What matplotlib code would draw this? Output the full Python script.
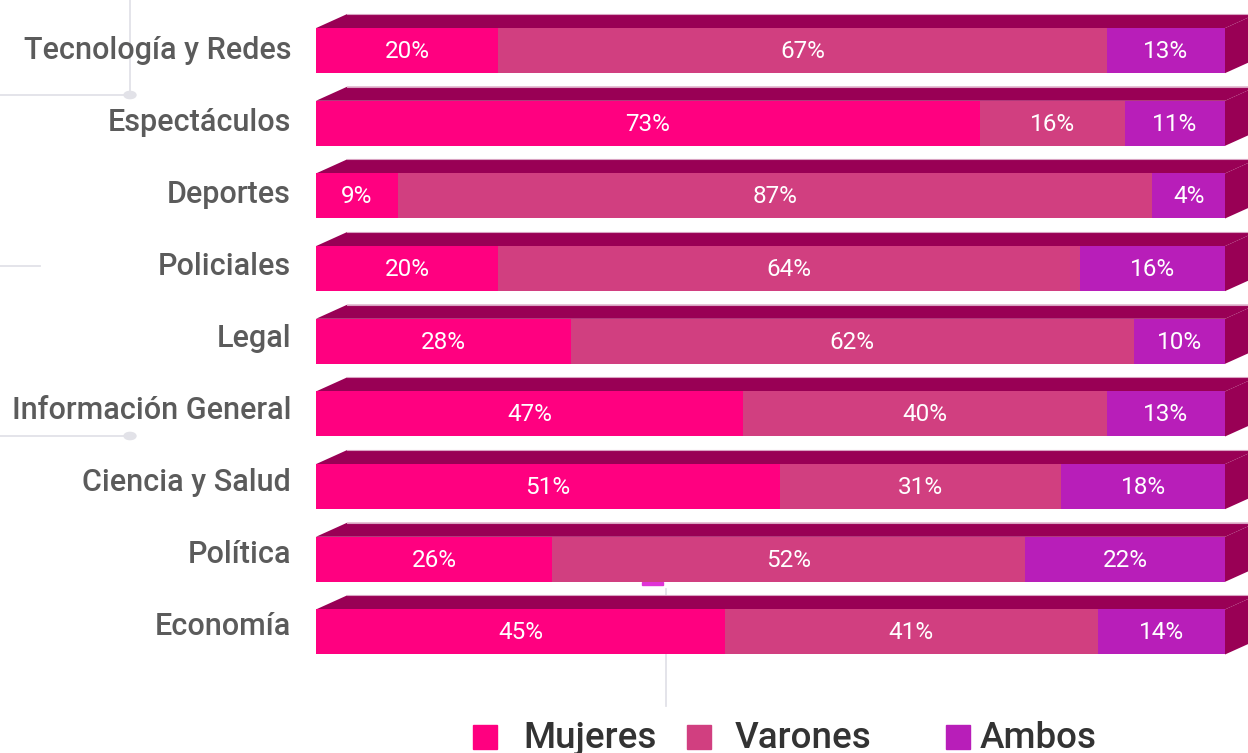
import matplotlib
matplotlib.use('Agg')
import matplotlib.pyplot as plt
from matplotlib.patches import Polygon, Rectangle, Circle
from matplotlib.lines import Line2D
import numpy as np

categories = ['Tecnología y Redes', 'Espectáculos', 'Deportes', 'Policiales', 'Legal',
              'Información General', 'Ciencia y Salud', 'Política', 'Economía']
# printed percentages
mujeres = [20, 73, 9, 20, 28, 47, 51, 26, 45]
varones = [67, 16, 87, 64, 62, 40, 31, 52, 41]
ambos = [13, 11, 4, 16, 10, 13, 18, 22, 14]
# segment widths as drawn in the picture (Deportes differs from its printed labels)
mujeres_w = [20, 73, 9, 20, 28, 47, 51, 26, 45]
varones_w = [67, 16, 83, 64, 62, 40, 31, 52, 41]
ambos_w = [13, 11, 8, 16, 10, 13, 18, 22, 14]
series_names = ['Mujeres', 'Varones', 'Ambos']

colors = ['#FF0080', '#D13F80', '#B81EB9']
top_color = '#990055'
label_color = '#5b5b5b'
deco_color = '#e2e2e8'

plt.rcParams['font.family'] = ['Roboto', 'DejaVu Sans']

W, H = 1248, 753
fig = plt.figure(figsize=(W / 100, H / 100), dpi=100)

def fx(px):
    return px / W

def fy(py):
    return 1 - py / H

# decorative lines
for (x0, y0, x1, y1) in [(130, 0, 130, 95), (0, 95, 130, 95), (0, 266, 40, 266),
                         (0, 436, 130, 436), (665.5, 589, 665.5, 706)]:
    fig.add_artist(Line2D([fx(x0), fx(x1)], [fy(y0), fy(y1)], color=deco_color, lw=1.3, zorder=0))
for (cx, cy) in [(130, 95), (130, 436)]:
    fig.add_artist(Circle((fx(cx), fy(cy)), radius=6 / W, transform=fig.transFigure,
                          color=deco_color, zorder=0))
fig.add_artist(Rectangle((fx(642), fy(585)), 21 / W, 3 / H, transform=fig.transFigure,
                         color='#E033D6', zorder=0))

n = len(categories)
ax = fig.add_axes([fx(316), fy(668.3), 909 / W, 654 / H])
ax.set_xlim(0, 100)
ax.set_ylim(n - 0.5, -0.5)
ax.patch.set_alpha(0)
for s in ax.spines.values():
    s.set_visible(False)
ax.set_xticks([])
ax.set_yticks([])

bar_h = 0.62
ypos = np.arange(n)
px_per_x = 909 / 100
px_per_y = 654 / n
dx = 31 / px_per_x
dy = 14 / px_per_y

# 3D top and side faces
for yi in ypos:
    yt = yi - bar_h / 2
    yb = yi + bar_h / 2
    top = Polygon([(0, yt), (dx, yt - dy), (100 + dx, yt - dy), (100, yt)], closed=True,
                  facecolor=top_color, edgecolor='none', clip_on=False, zorder=2)
    side = Polygon([(100, yt), (100 + dx, yt - dy), (100 + dx, yb - dy), (100, yb)], closed=True,
                   facecolor=top_color, edgecolor='none', clip_on=False, zorder=2)
    ax.add_patch(top)
    ax.add_patch(side)
    ax.plot([dx, 100 + dx], [yt - dy, yt - dy], color='#d9a3c2', lw=0.8, clip_on=False, zorder=2)

left = np.zeros(n)
for widths, labels, col in zip([mujeres_w, varones_w, ambos_w], [mujeres, varones, ambos], colors):
    widths = np.array(widths, dtype=float)
    ax.barh(ypos, widths, left=left, height=bar_h, color=col, zorder=3, linewidth=0)
    for yi, l, w, lab in zip(ypos, left, widths, labels):
        ax.text(l + w / 2, yi + 0.01, f'{lab}%', ha='center', va='center', color='white',
                fontsize=17.5, zorder=5)
    left += widths

# category labels
for i, cat in enumerate(categories):
    ax.annotate(cat, xy=(0, ypos[i]), xytext=(-25, 0.65 * i), textcoords='offset pixels',
                ha='right', va='center', fontsize=22, color=label_color, fontweight='medium',
                annotation_clip=False)

# legend
leg_sq = [473, 687, 946]
leg_tx = [523, 735, 980]
for name, col, sx, tx in zip(series_names, colors, leg_sq, leg_tx):
    fig.add_artist(Rectangle((fx(sx), fy(749)), 24 / W, 24 / H, transform=fig.transFigure,
                             color=col))
    fig.text(fx(tx), fy(748), name, ha='left', va='baseline', fontsize=26.5,
             color='#333333', fontweight='medium')

fig.savefig('out.png', dpi=100)
